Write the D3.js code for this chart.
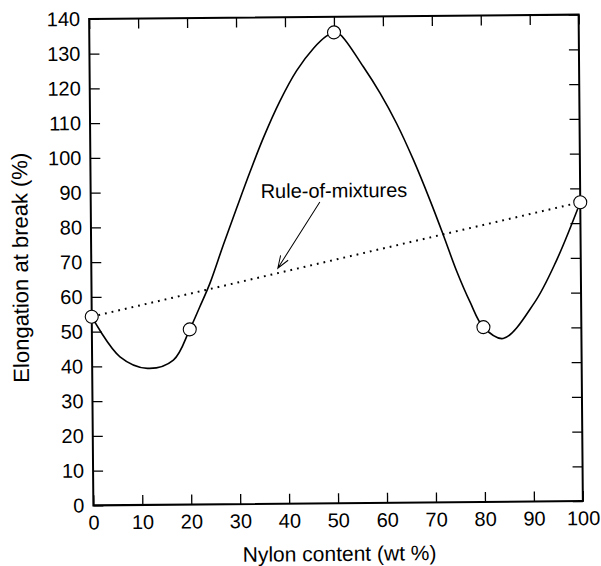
<!DOCTYPE html>
<html>
<head>
<meta charset="utf-8">
<script src="https://cdn.jsdelivr.net/npm/d3@7/dist/d3.min.js"></script>
<style>
    body { margin: 0; background: #fff; }
    svg { display: block; }
    text { font-family: "Liberation Sans", Arial, Helvetica, sans-serif; fill: #000; }
</style>
</head>
<body>
<div id="chart"></div>
<script>

// measured points (nylon wt %, elongation %)
var nylonContent = [0, 20, 50, 80, 100];
var elongation = [54.3, 50.4, 135.5, 50.3, 86];

// smooth curve
var curveX = [0, 5.7, 11.3, 16.6, 20, 22.1, 24.2, 27.0, 29.8, 32.6, 35.4, 38.8, 42.3, 45.8, 48.5, 50,
    51.3, 55.9, 59.3, 62.6, 66.0, 69.3, 72.0, 74.6, 77.3, 80, 84.0, 90.4, 95.1, 100];
var curveY = [54.3, 42.7, 39.3, 41.6, 50.4, 56.9, 63.6, 74.6, 85.2, 95.6, 105.4, 115.8, 124.6, 131.0, 134.5, 135.5,
    134.8, 125.6, 117.9, 109.2, 98.6, 87.0, 76.8, 66.6, 57.6, 50.3, 47.0, 57.1, 69.5, 86];

// rule-of-mixtures line ends
var mixX = [0, 100];
var mixY = [54.3, 86];

var xTicks = [0, 10, 20, 30, 40, 50, 60, 70, 80, 90, 100];
var yTicks = [0, 10, 20, 30, 40, 50, 60, 70, 80, 90, 100, 110, 120, 130, 140];

var width = 601, height = 566;
var pLeft = 91.25, pRight = 580.75, pTop = 16.75, pBottom = 503.25;

var svg = d3.select("#chart").append("svg")
    .attr("width", width)
    .attr("height", height);

// the scan is tilted a little
var g = svg.append("g")
    .attr("transform", "rotate(-0.5,336,260)");

var x = d3.scaleLinear().domain([0, 100]).range([pLeft, pRight]);
var y = d3.scaleLinear().domain([0, 140]).range([pBottom, pTop]);

// axes, ticks pointing inwards on all four sides
var axisB = g.append("g")
    .attr("transform", "translate(0," + pBottom + ")")
    .call(d3.axisBottom(x).tickValues(xTicks).tickSize(-10).tickPadding(24));
var axisT = g.append("g")
    .attr("transform", "translate(0," + pTop + ")")
    .call(d3.axisTop(x).tickValues(xTicks).tickSize(-10).tickFormat(""));
var axisL = g.append("g")
    .attr("transform", "translate(" + pLeft + ",0)")
    .call(d3.axisLeft(y).tickValues(yTicks).tickSize(-10).tickPadding(9));
var axisR = g.append("g")
    .attr("transform", "translate(" + pRight + ",0)")
    .call(d3.axisRight(y).tickValues(yTicks).tickSize(-10).tickFormat(""));

[axisB, axisT, axisL, axisR].forEach(function(a){
    a.select(".domain").remove();
    a.selectAll("line").attr("stroke", "#000").attr("stroke-width", 1.3);
    a.selectAll("text")
        .style("font-size", "20px")
        .style("font-family", "'Liberation Sans', Arial, sans-serif");
});
axisB.selectAll(".tick text").attr("dy", "0").attr("y", 24);

g.append("rect")
    .attr("x", pLeft)
    .attr("y", pTop)
    .attr("width", pRight - pLeft)
    .attr("height", pBottom - pTop)
    .attr("fill", "none")
    .attr("stroke", "#000")
    .attr("stroke-width", 2);

// axis titles
g.append("text")
    .attr("x", 337)
    .attr("y", 561)
    .attr("text-anchor", "middle")
    .style("font-size", "21px")
    .text("Nylon content (wt %)");

g.append("text")
    .attr("transform", "translate(28,265) rotate(-90)")
    .attr("text-anchor", "middle")
    .style("font-size", "22px")
    .text("Elongation at break (%)");

// rule-of-mixtures dotted line
var line = d3.line()
    .x(function(d){ return x(d[0]); })
    .y(function(d){ return y(d[1]); });

g.append("path")
    .datum(d3.zip(mixX, mixY))
    .attr("d", line)
    .attr("fill", "none")
    .attr("stroke", "#000")
    .attr("stroke-width", 2)
    .attr("stroke-dasharray", "1.8,5");

// experimental curve
g.append("path")
    .datum(d3.zip(curveX, curveY))
    .attr("d", line.curve(d3.curveCatmullRom.alpha(0.5)))
    .attr("fill", "none")
    .attr("stroke", "#000")
    .attr("stroke-width", 1.6);

g.selectAll("circle.pt")
    .data(d3.zip(nylonContent, elongation))
    .enter().append("circle")
    .attr("class", "pt")
    .attr("cx", function(d){ return x(d[0]); })
    .attr("cy", function(d){ return y(d[1]); })
    .attr("r", 6.5)
    .attr("fill", "#fff")
    .attr("stroke", "#000")
    .attr("stroke-width", 1.1);

// annotation
g.append("text")
    .attr("x", x(49.7))
    .attr("y", y(88))
    .attr("text-anchor", "middle")
    .style("font-size", "20px")
    .text("Rule-of-mixtures");

var ax0 = x(46.8), ay0 = y(86.7), ax1 = x(38.1), ay1 = y(67.8);
var ang = Math.atan2(ay0 - ay1, ax0 - ax1);
var head = 13, spread = 20 * Math.PI / 180;

g.append("path")
    .attr("d", "M" + ax0 + "," + ay0 + "L" + ax1 + "," + ay1 +
        "M" + (ax1 + head * Math.cos(ang - spread)) + "," + (ay1 + head * Math.sin(ang - spread)) +
        "L" + ax1 + "," + ay1 +
        "L" + (ax1 + head * Math.cos(ang + spread)) + "," + (ay1 + head * Math.sin(ang + spread)))
    .attr("fill", "none")
    .attr("stroke", "#000")
    .attr("stroke-width", 1);

</script>
</body>
</html>
